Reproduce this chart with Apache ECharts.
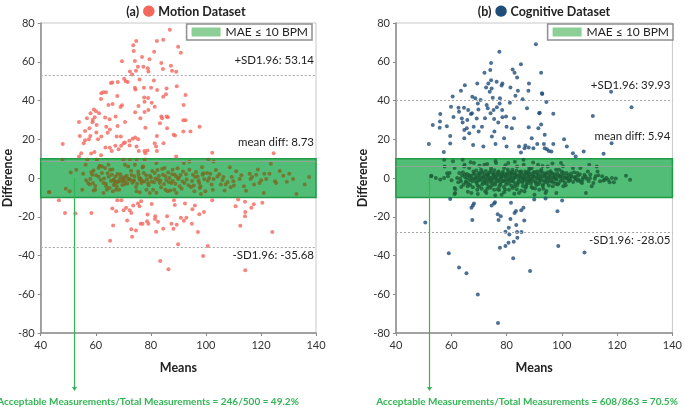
<!DOCTYPE html>
<html>
<head>
<meta charset="utf-8">
<script src="https://cdn.jsdelivr.net/npm/echarts@6/dist/echarts.min.js"></script>
<style>
  html, body { margin: 0; padding: 0; background: #fff; }
  #chart { width: 685px; height: 407px; }
</style>
</head>
<body>
<div id="chart"></div>
<script>
// Bland-Altman plots, motion vs cognitive dataset
const xTicks = [40, 60, 80, 100, 120, 140];
const yTicks = [-80, -60, -40, -20, 0, 20, 40, 60, 80];
const maeBand = [-10, 10];
const acceptMean = 52; // where the green pointer drops from

// limits: +SD1.96, mean diff, -SD1.96
const motionLimits = [53.14, 8.73, -35.68];
const cognitiveLimits = [39.93, 5.94, -28.05];

const motionCounts = [246, 500, 49.2];
const cognitiveCounts = [608, 863, 70.5];

// motion dataset: [means, difference]
const motionUpper = [
  [48,17.5],[86.9,76.5],[94.2,76.2],[74.7,70.7],[73.6,68.5],[84.5,71.4],[82.2,70.7],[89.9,67.8],[90.9,64.6],[81.2,65.1],
  [73.8,65.6],[69.5,60.3],[76.8,62.5],[74.2,60.4],[79.5,61.3],[83.8,59.4],[87.3,58.0],[84.4,56.2],[77.3,57.4],[78.9,56.7],
  [75.3,57.4],[74.6,55.3],[72.4,55.0],[87.7,55.3],[89.2,54.8],[79.1,55.0],[73.2,53.4],[70.3,51.2],[70.9,50.0],[71.6,49.5],
  [66.0,49.3],[68.0,49.5],[65.5,49.0],[75.9,50.9],[81.1,50.3],[80.1,46.6],[77.5,46.6],[74.2,46.6],[74.4,45.7],[82.3,45.4],
  [85.7,46.2],[85.5,43.2],[62.7,44.3],[63.7,44.2],[62.0,43.7],[89.4,47.4],[67.8,42.3],[92.6,42.8],[61.9,40.8],[77.6,41.6],
  [79.0,41.3],[77.7,39.4],[84.5,42.0],[91.9,37.7],[69.5,37.5],[69.0,36.6],[64.6,37.7],[66.1,38.2],[80.3,38.9],[75.5,37.2],
  [81.4,36.8],[79.1,35.1],[77.7,34.1],[74.3,33.9],[59.3,35.4],[60.1,34.4],[58.1,33.4],[61.2,33.4],[56.8,30.8],[59.6,31.3],
  [58.9,30.0],[58.8,28.8],[53.9,28.9],[85.7,31.7],[86.2,31.3],[84.1,30.8],[83.8,31.7],[91.8,29.8],[92.6,29.8],[76.2,30.8],
  [67.2,31.7],[63.4,31.2],[65.0,30.3],[70.6,28.9],[60.3,27.4],[63.8,26.5],[67.9,26.9],[78.0,26.0],[85.9,25.7],[83.3,28.3],
  [56.1,24.3],[57.7,25.7],[54.2,21.7],[58.0,21.7],[57.5,20.0],[56.1,19.5],[55.6,18.0],[60.2,23.5],[60.8,20.0],[64.3,23.3],
  [62.0,21.4],[65.1,25.0],[69.1,21.4],[67.6,21.4],[63.5,15.8],[65.1,15.6],[65.8,14.0],[67.1,16.6],[69.2,16.6],[70.1,18.0],
  [70.6,18.3],[72.2,19.2],[73.4,20.2],[74.3,20.9],[75.4,20.0],[68.3,14.9],[72.3,16.8],[74.8,16.3],[75.6,14.0],[77.7,14.0],
  [78.8,14.2],[78.0,12.8],[81.4,18.0],[81.9,16.3],[82.2,14.0],[82.2,21.7],[84.6,18.0],[88.3,22.3],[88.8,21.9],[91.8,24.0],
  [97.7,26.4],[94.4,24.0],[102.3,13.0],[124.6,12.8],[89.2,11.1],[61.9,11.8],[53.9,11.1],[54.7,12.8],[59.5,13.4],[58.3,12.7]
];
const motionBand = [
  [43.0,-7.2],[43.1,-7.4],[47.9,9.4],[50.9,2.9],[49.1,-5.6],[50.5,-6.9],[55.1,-6.0],[52.9,4.3],[56.3,6.8],[56.9,9.4],
  [58.0,-0.5],[58.7,1.7],[59.2,3.9],[59.0,-2.6],[57.2,-2.6],[60.4,9.4],[61.4,6.3],[61.0,5.1],[62.2,2.6],[59.8,-6.0],
  [59.2,-6.5],[63.4,5.1],[62.8,-2.6],[63.8,-4.3],[64.0,-6.0],[62.8,-7.7],[64.6,6.8],[65.2,4.3],[65.8,1.7],[66.4,-0.9],
  [67.0,-2.6],[67.6,-4.3],[68.2,-1.7],[68.8,0],[69.4,-1.7],[70.0,-0.9],[70.6,-1.7],[66.2,-6.9],[67.4,-6.0],[70.0,9.4],
  [70.6,6.8],[71.8,6.0],[72.4,9.4],[72.1,-0.5],[73.6,-1.7],[74.2,6.8],[74.8,9.4],[75.4,3.4],[76.0,-0.9],[76.6,-2.6],
  [77.2,6.0],[77.8,9.4],[74.8,-6.9],[76.0,-7.4],[78.4,-6.0],[79.0,-2.6],[79.6,-7.7],[80.8,-6.0],[81.4,2.6],[82.0,7.7],
  [82.6,-0.9],[83.2,-2.6],[84.4,1.7],[85.0,5.1],[85.3,-6.0],[86.1,-6.9],[86.8,0],[87.4,-2.6],[87.9,4.3],[88.5,-6.0],
  [89.2,0.8],[88.7,1.7],[89.9,-0.5],[89.3,-7.7],[90.5,-4.3],[91.7,3.4],[92.0,7.7],[92.2,-2.6],[94.0,8.5],[94.0,4.3],
  [95.3,1.7],[95.6,-3.9],[95.8,-6.9],[97.0,0.8],[97.6,-2.6],[98.0,-4.3],[98.2,-8.2],[98.6,5.6],[98.8,1.7],[99.4,-0.5],
  [100.4,2.6],[100.9,9.4],[101.2,0],[101.6,2.2],[102.1,-3.4],[102.8,-0.5],[102.8,8.5],[104.2,0.8],[105.4,-3.4],[106.4,0.5],
  [106.8,-6.4],[107.2,-3.4],[108.7,5.6],[109.4,0.5],[110.0,-1.7],[110.2,-3.9],[112.3,-0.5],[113.8,-4.3],[115.9,2.2],[116.2,-0.5],
  [116.8,0.5],[118.3,1.7],[119.5,-2.6],[121.0,-7.7],[121.2,2.2],[121.9,-0.5],[123.1,2.2],[123.6,7.3],[125.1,-1.7],[125.5,-2.6],
  [128.1,1.2],[130.3,2.2],[131.7,-0.5],[132.9,-8.2],[135.9,-3.4],[137.5,0.5],
  [56.5,-1.2],[58.4,3.0],[59.8,-4.1],[61.0,0.6],[62.3,6.0],[63.0,-0.2],[64.3,2.4],[65.0,-5.2],[66.0,4.4],[66.8,-1.4],
  [67.9,2.1],[68.5,-6.1],[69.8,0.4],[70.4,-3.2],[71.2,1.1],[71.9,-0.6],[72.8,3.8],[73.3,-2.4],[74.0,0.9],[74.6,-4.6],
  [75.5,2.0],[76.3,-0.4],[77.0,5.4],[77.6,-1.8],[78.3,1.4],[79.2,-3.8],[80.0,0.2],[80.5,3.6],[81.2,-2.2],[82.0,-7.6],
  [82.9,1.0],[83.7,-4.8],[84.1,4.6],[85.6,-1.0],[86.3,2.8],[87.0,-6.4],[88.0,-1.6],[89.7,5.0],[90.8,1.6],[91.2,-5.6],
  [93.0,-0.8],[94.6,-4.6],[96.4,3.1],[97.3,-1.3],[99.8,-6.8],[103.6,4.1],[107.9,-2.0],[111.0,3.5],[114.6,-6.6],[118.9,4.4],
  [55.4,2.2],[57.8,-3.4],[60.1,1.4],[61.8,-1.0],[63.6,-3.0],[64.7,0.6],[65.5,-1.5],[66.5,-3.6],[67.2,0.8],[68.0,-2.0],
  [68.9,1.9],[69.6,-3.6],[70.7,0.4],[71.5,-2.8],[72.5,-0.9],[73.0,1.6],[73.9,-1.2],[75.0,-3.0],[75.7,0.3],[76.8,-1.5],
  [77.4,2.6],[78.6,-0.7],[79.7,1.1],[80.3,-1.9],[81.7,-0.2],[82.4,4.1],[83.5,-1.3],[84.8,-3.1],[85.3,0.9],[86.5,-2.0],
  [87.7,1.9],[88.9,-3.0],[90.2,0.1],[91.5,-1.8],[92.8,2.0],[93.7,-3.8],[95.0,-1.6],[96.1,0.5],[97.8,-5.2],[99.0,2.4],
  [100.7,-1.4],[102.5,-6.0],[104.9,1.9],[106.0,-1.0],[109.0,-4.8],[112.9,1.4],[117.5,-3.4],[120.1,-1.2],[126.8,3.6],[129.4,-1.9]
];
const motionLower = [
  [46.6,-11.5],[48.8,-18.0],[52.6,-18.3],[58.4,-18.0],[66.0,-15.8],[67.4,-17.1],[66.3,-24.5],[65.2,-32.4],[67.8,-11.5],[69.3,-11.5],
  [70.1,-16.6],[71.0,-15.4],[71.4,-21.9],[72.3,-16.6],[72.9,-18.0],[72.9,-26.5],[73.2,-30.3],[74.6,-27.1],[73.6,-14.2],[75.3,-13.2],
  [75.9,-14.6],[76.5,-12.0],[77.0,-23.6],[76.3,-23.6],[78.8,-18.8],[78.6,-22.3],[79.1,-23.6],[80.3,-13.4],[81.6,-19.7],[81.5,-21.1],
  [82.6,-22.6],[81.9,-27.7],[83.4,-42.8],[84.5,-26.2],[85.9,-19.7],[86.4,-47.1],[87.5,-23.6],[88.2,-26.2],[88.7,-13.9],[89.4,-24.1],
  [89.9,-34.2],[88.4,-11.5],[90.9,-20.5],[92.0,-22.1],[92.4,-13.2],[92.9,-20.5],[95.1,-16.1],[96.0,-14.2],[94.9,-23.6],[97.1,-27.9],
  [97.6,-18.7],[99.3,-17.5],[99.0,-40.2],[100.7,-35.1],[102.3,-11.5],[110.8,-14.6],[111.7,-11.1],[112.5,-24.7],[114.2,-12.3],[114.3,-17.5],
  [114.2,-19.7],[114.3,-47.6],[116.5,-15.4],[117.4,-13.5],[120.5,-12.8],[124.1,-27.9]
];

// cognitive dataset: [means, difference]
const cognitiveUpper = [
  [51.9,17.6],[53.3,27.4],[55.8,26.0],[56.0,33.0],[55.9,29.1],[58.4,26.7],[57.3,13.4],[59.6,17.8],[59.6,21.7],[59.9,36.8],
  [60.5,42.1],[60.8,31.5],[62.6,36.3],[62.8,34.2],[63.5,45.0],[63.8,30.7],[64.1,28.6],[64.9,47.9],[64.6,36.3],[64.7,24.8],
  [64.7,20.5],[65.6,25.7],[65.8,30.0],[66.1,35.1],[66.5,23.1],[67.1,33.0],[67.5,33.4],[67.6,42.0],[67.9,17.0],[68.1,26.5],
  [68.7,41.1],[69.4,48.8],[69.2,30.7],[69.6,38.5],[69.8,35.4],[69.9,24.0],[70.6,40.2],[71.1,26.5],[71.6,16.3],[72.0,54.3],
  [72.2,30.8],[72.8,37.7],[73.2,36.0],[72.6,46.7],[73.4,48.8],[73.9,44.5],[74.1,55.7],[74.2,33.4],[74.4,59.4],[74.6,46.2],
  [74.4,50.5],[74.7,21.4],[75.0,41.4],[75.3,35.1],[75.5,30.5],[75.6,24.0],[76.0,17.6],[76.4,49.7],[76.5,36.5],[77.0,28.6],
  [77.4,65.1],[77.5,38.5],[77.6,41.1],[78.2,47.8],[78.5,48.8],[78.4,35.1],[78.5,31.3],[79.1,20.5],[79.8,31.7],[80.0,16.3],
  [80.0,26.5],[81.2,38.9],[81.4,46.7],[81.9,25.7],[82.2,56.0],[82.9,54.3],[82.7,30.8],[83.2,42.5],[83.8,51.9],[84.1,45.0],
  [84.5,16.3],[85.2,58.7],[85.2,13.2],[85.8,40.6],[86.5,15.4],[86.8,16.8],[87.4,36.0],[87.9,45.0],[88.0,26.2],[88.1,48.8],
  [90.6,69.0],[91.1,17.6],[91.5,25.7],[91.8,33.4],[92.5,54.3],[92.8,43.7],[92.5,27.6],[92.9,43.3],[93.8,22.3],[93.5,17.6],
  [94.4,39.2],[94.6,14.9],[96.2,13.7],[96.9,33.2],[96.9,17.6],[100.8,20.0],[101.8,16.3],[104.0,12.8],[107.9,13.7],[111.2,32.0],
  [115.1,12.5],[117.8,44.5],[118.0,18.0],[125.2,36.5],[88.0,15.8],[92.0,33.7],[89.1,20.5],[93.8,15.4],[95.3,14.0],[105.0,11.1],
  [89.7,15.4]
];
const cognitiveBand = [
  [52.8,1.2],[54.4,0],[52.7,0.9],[57.4,9.4],[57.6,6.0],[57.4,0],[58.8,0.9],[59.4,2.6],[60.6,8.6],[61.2,5.1],
  [61.2,-5.1],[61.4,-7.7],[62.1,0],[62.9,2.6],[63.5,-1.7],[64.1,9.4],[64.7,6.0],[64.9,1.7],[65.3,-1.7],[65.9,-4.3],
  [66.5,5.1],[66.8,0.9],[67.3,-7.7],[67.6,-1.7],[68.0,3.4],[68.2,7.7],[68.8,0],[69.2,-2.6],[69.4,-6.0],[70.0,2.6],
  [70.4,-0.9],[70.8,4.3],[71.2,-3.4],[71.5,0.9],[72.0,6.8],[72.4,-1.7],[72.7,-7.7],[73.2,1.7],[73.5,-4.3],[73.9,-0.5],
  [74.4,5.1],[74.7,-2.6],[75.1,2.6],[75.5,-6.0],[75.9,0],[76.2,7.7],[76.7,-1.7],[77.1,3.4],[77.4,-4.3],[77.9,0.9],
  [78.2,-8.6],[78.6,-1.7],[79.1,5.1],[79.4,1.7],[79.8,-3.4],[80.2,-0.5],[80.6,7.7],[80.9,-6.0],[81.4,2.6],[81.8,-1.7],
  [82.1,4.3],[82.6,0],[82.9,-4.3],[83.3,1.7],[83.8,6.0],[84.1,-2.6],[84.5,-7.7],[84.9,0.9],[85.3,3.4],[85.6,-1.7],
  [86.1,9.4],[86.5,0],[86.8,-5.1],[87.3,2.6],[87.6,-2.6],[88.2,5.1],[88.8,-0.5],[87.9,1.7],[88.5,-1.7],[89.1,5.1],
  [89.4,-5.1],[89.9,0.9],[90.6,-2.6],[91.1,3.4],[91.4,6.8],[91.8,-6.0],[92.2,0],[92.6,4.3],[93.2,-3.4],[93.8,1.7],
  [94.1,-7.7],[94.6,-0.9],[94.9,6.0],[95.5,-1.7],[96.1,2.6],[96.7,-4.3],[97.3,0],[97.9,4.3],[98.5,-3.4],[99.1,0.9],
  [99.7,7.7],[100.0,3.4],[100.5,-4.3],[101.2,0],[101.7,2.6],[102.4,-1.7],[103.2,0.9],[104.0,5.1],[104.7,0],[105.5,2.6],
  [106.1,-0.9],[106.7,5.1],[107.3,-2.6],[108.2,1.7],[108.7,-7.7],[109.4,3.4],[109.9,6.8],[110.2,0],[110.8,-4.3],[111.4,-2.6],
  [112.2,0.9],[112.6,6.0],[112.9,3.4],[113.8,-1.7],[114.6,0.9],[115.5,-0.9],[116.1,0],[117.3,-2.2],[118.1,0],[118.8,-2.2],
  [123.2,1.2],[124.7,-0.9],[61.2,-8.2],
  [62.5,-2.2],[63.2,-0.4],[63.9,1.3],[64.4,-3.5],[65.0,0.4],[65.6,2.1],[66.1,-2.9],[66.7,-1.0],[67.2,1.0],[67.8,-4.8],
  [68.3,-0.2],[68.6,1.8],[69.0,3.9],[69.5,-3.9],[69.9,-1.3],[70.3,0.6],[70.6,2.5],[71.0,-5.6],[71.4,-2.0],[71.7,0.1],
  [72.1,1.9],[72.5,3.6],[72.8,-3.0],[73.1,-0.8],[73.5,0.8],[73.8,2.9],[74.2,-5.0],[74.5,-1.4],[74.9,0.4],[75.2,2.0],
  [75.6,4.0],[75.9,-3.3],[76.3,-0.9],[76.6,1.1],[77.0,2.7],[77.3,-6.2],[77.7,-2.2],[78.0,-0.2],[78.4,1.5],[78.7,3.2],
  [79.0,-4.7],[79.4,-1.1],[79.7,0.6],[80.1,2.3],[80.4,4.4],[80.8,-2.9],[81.1,-0.6],[81.5,1.2],[81.8,3.0],[82.2,-5.2],
  [82.5,-1.8],[82.9,0.2],[83.2,1.9],[83.6,3.8],[83.9,-3.6],[84.3,-0.8],[84.6,1.0],[85.0,2.6],[85.3,-6.6],[85.7,-2.3],
  [86.0,-0.1],[86.4,1.6],[86.7,3.4],[87.1,-4.4],[87.4,-1.2],[87.8,0.7],[88.1,2.4],[88.5,4.6],[88.8,-2.8],[89.2,-0.5],
  [89.5,1.3],[89.9,3.1],[90.3,-5.4],[90.6,-1.6],[91.0,0.3],[91.3,2.0],[91.7,-3.1],[92.0,-0.9],[92.4,1.1],[92.8,2.8],
  [93.1,-4.1],[93.5,-1.4],[93.9,0.5],[94.3,2.2],[94.7,-2.5],[95.1,-0.3],[95.5,1.4],[95.9,3.5],[96.3,-1.9],[96.8,0.2],
  [97.2,2.0],[97.7,-3.0],[98.1,-0.8],[98.6,1.3],[99.0,4.2],[99.5,-1.6],[100.0,0.4],[100.6,2.6],[101.1,-2.4],[101.7,-0.2],
  [102.3,1.6],[103.0,-1.2],[103.6,0.7],[104.4,3.0],[105.1,-0.6],[105.9,1.2],[106.8,-1.9],[107.7,0.3],[109.0,-0.4],[110.3,1.8],
  [64.8,6.8],[67.0,8.1],[70.2,6.3],[73.0,7.2],[76.0,8.8],[79.6,6.6],[83.0,8.4],[86.2,6.9],[89.6,8.0],[93.0,6.2],
  [96.6,7.5],[100.4,6.1],[66.0,-7.1],[69.6,-8.3],[72.3,-6.8],[75.9,-8.9],[79.1,-7.4],[82.8,-8.1],[86.5,-7.0],[90.1,-8.6],
  [94.4,-6.7],[98.0,-7.8],[60.1,-1.2],[58.5,2.4],[56.0,-0.8],[61.5,-5.8],
  [63.6,-4.6],[64.2,3.0],[65.2,-2.4],[65.8,0.0],[66.3,1.6],[66.9,-3.6],[67.5,-0.5],[68.1,2.3],[68.9,-1.8],[69.3,0.3],
  [69.8,1.5],[70.1,-4.5],[70.9,-0.3],[71.3,3.1],[71.9,-2.6],[72.3,-0.9],[72.6,0.9],[73.0,-5.5],[73.4,2.3],[73.7,-1.9],
  [74.0,0.1],[74.3,3.9],[74.8,-3.8],[75.0,-0.6],[75.4,1.3],[75.8,-2.4],[76.1,0.5],[76.5,2.4],[76.8,-5.8],[77.2,-0.8],
  [77.5,1.9],[77.8,-3.3],[78.1,0.4],[78.5,2.5],[78.9,-1.4],[79.2,0.9],[79.5,-5.9],[79.9,-2.1],[80.3,1.4],[80.7,3.1],
  [81.0,-1.2],[81.3,0.2],[81.7,-4.0],[82.0,1.8],[82.4,-0.4],[82.7,2.7],[83.1,-2.9],[83.4,0.6],[83.7,-5.8],[84.0,1.3],
  [84.4,-1.9],[84.8,3.2],[85.1,-0.2],[85.5,1.8],[85.9,-4.1],[86.2,0.3],[86.6,-1.3],[86.9,2.2],[87.2,-3.2],[87.6,0.1],
  [87.9,3.6],[88.3,-1.1],[88.7,0.9],[89.0,-4.6],[89.3,2.3],[89.7,-1.5],[90.0,0.5],[90.4,2.8],[90.8,-3.6],[91.2,-0.1],
  [91.5,1.6],[91.9,-2.2],[92.2,3.5],[92.6,-1.0],[93.0,0.8],[93.3,-5.5],[93.7,2.4],[94.0,-2.1],[94.5,0.2],[94.9,3.0],
  [95.3,-3.9],[95.7,0.7],[96.1,-0.8],[96.5,2.3],[97.0,-2.1],[97.4,0.9],[97.9,-0.4],[98.3,2.5],[98.8,-2.7],[99.3,0.5],
  [99.8,2.0],[100.3,-1.2],[100.9,1.0],[101.4,-3.7],[102.0,0.3],[102.7,-0.8],[103.3,2.3],[104.1,-2.0],[104.9,0.6],[105.7,-1.4],
  [106.5,2.0],[107.5,-0.9],[108.6,0.6],[109.7,-1.6],[111.9,-0.4],[113.2,1.4],[115.0,-1.3],[116.7,-0.9],[119.5,-0.2]
];
const cognitiveLower = [
  [50.6,-23.0],[59.1,-38.9],[59.6,-10.8],[62.8,-46.2],[65.5,-49.1],[67.3,-15.4],[67.8,-14.2],[68.2,-13.2],[67.6,-21.7],[69.6,-60.1],
  [74.6,-14.2],[75.8,-12.5],[75.5,-13.2],[76.8,-18.7],[77.1,-21.7],[77.9,-19.7],[76.9,-74.8],[77.6,-36.0],[79.6,-27.7],[79.6,-35.1],
  [80.7,-33.4],[80.8,-25.7],[81.0,-29.1],[81.4,-21.1],[81.6,-12.8],[82.4,-41.4],[82.6,-32.9],[82.9,-18.0],[83.4,-17.0],[83.5,-24.3],
  [83.8,-27.9],[83.9,-30.8],[85.3,-16.6],[85.4,-27.9],[86.1,-15.4],[86.4,-21.9],[88.5,-48.0],[90.0,-11.1],[98.4,-17.1],[98.7,-35.1],
  [100.1,-11.6],[108.2,-38.5],[94.1,-10.6]
];

const FONT = 'Lato, "Open Sans", sans-serif';
const motionColor = '#f4675c';
const motionInBand = '#7b6a22';
const cognitiveColor = '#1f4e79';
const cognitiveInBand = '#1b5e36';
const bandColor = '#52bd77';
const bandEdge = '#1f9a45';
const pointerGreen = '#33b555';
const bandName = 'MAE \u2264 10 BPM';

const chartDom = document.getElementById('chart');
const chart = echarts.init(chartDom, null, { renderer: 'canvas' });

const grids = [
  { left: 38, right: 369, top: 23, bottom: 74 },
  { left: 396, right: 6, top: 23, bottom: 74 }
];

function xAxisFor(idx) {
  return {
    gridIndex: idx, type: 'value', min: xTicks[0], max: xTicks[xTicks.length - 1], interval: 20,
    name: 'Means', nameLocation: 'middle', nameGap: 28,
    nameTextStyle: { fontFamily: FONT, fontWeight: 'bold', fontSize: 12.5, color: '#222' },
    axisLine: { onZero: false, lineStyle: { color: '#8c8c8c', width: 1.5 } },
    axisTick: { show: true, length: 3, lineStyle: { color: '#8c8c8c' } },
    axisLabel: { fontFamily: FONT, fontSize: 11, color: '#333', margin: 7 },
    splitLine: { show: false }
  };
}

function yAxisFor(idx, gap) {
  return {
    gridIndex: idx, type: 'value', min: yTicks[0], max: yTicks[yTicks.length - 1], interval: 20,
    name: 'Difference', nameLocation: 'middle', nameGap: gap,
    nameTextStyle: { fontFamily: FONT, fontWeight: 'bold', fontSize: 12.5, color: '#222' },
    axisLine: { show: true, lineStyle: { color: '#8c8c8c', width: 1.5 } },
    axisTick: { show: true, length: 3, lineStyle: { color: '#8c8c8c' } },
    axisLabel: { fontFamily: FONT, fontSize: 11, color: '#333', margin: 6 },
    splitLine: { show: false }
  };
}

function limitLines(idx, limits, meanColor) {
  const lbl = { fontFamily: FONT, fontSize: 11.5, color: '#222' };
  return {
    type: 'scatter', xAxisIndex: idx, yAxisIndex: idx, data: [], z: 2, silent: true,
    markLine: {
      symbol: 'none', silent: true, animation: false,
      data: [
        { yAxis: limits[0], lineStyle: { type: [2, 2], color: '#a6a6a6', width: 1 },
          label: Object.assign({ position: 'insideEndTop', distance: [2, 9], formatter: '+SD1.96: ' + limits[0].toFixed(2) }, lbl) },
        { yAxis: limits[1], lineStyle: { type: 'solid', color: meanColor, width: 1 },
          label: Object.assign({ position: 'insideEndTop', distance: [2, idx === 0 ? 13 : 24], formatter: 'mean diff: ' + limits[1].toFixed(2) }, lbl) },
        { yAxis: limits[2], lineStyle: { type: [2, 2], color: '#a6a6a6', width: 1 },
          label: Object.assign({ position: 'insideEndBottom', distance: [2, 2], formatter: '-SD1.96: ' + limits[2].toFixed(2) }, lbl) }
      ]
    }
  };
}

function bandSeries(idx) {
  return {
    name: bandName, type: 'scatter', xAxisIndex: idx, yAxisIndex: idx, data: [], z: 1, silent: true,
    itemStyle: { color: '#6fc27b' },
    markArea: {
      silent: true, animation: false,
      itemStyle: { color: bandColor, borderColor: bandEdge, borderWidth: 1.5 },
      data: [[{ yAxis: maeBand[1] }, { yAxis: maeBand[0] }]]
    }
  };
}

function pointSeries(idx, name, data) {
  return {
    name: name, type: 'scatter', xAxisIndex: idx, yAxisIndex: idx, z: 3,
    symbolSize: 4, data: data, animation: false
  };
}

function titleFor(left, tag, name, color) {
  return {
    left: left, top: -1, textAlign: 'center',
    text: '(' + tag + ') {dot|\u25CF} ' + name,
    textStyle: {
      fontFamily: FONT, fontWeight: 'bold', fontSize: 12.5, color: '#222',
      rich: { dot: { color: color, fontSize: 15, fontFamily: 'DejaVu Sans' } }
    }
  };
}

function legendFor(right) {
  return {
    data: [{ name: bandName, icon: 'rect' }], right: right, top: 24, selectedMode: false,
    itemWidth: 29, itemHeight: 9, itemGap: 6, padding: [2, 4, 2, 5],
    borderColor: '#8f8f8f', borderWidth: 1.5, backgroundColor: '#fff',
    textStyle: { fontFamily: FONT, fontSize: 12, color: '#222' }
  };
}

const option = {
  animation: false,
  title: [
    titleFor(181, 'a', 'Motion Dataset', motionColor),
    titleFor(539, 'b', 'Cognitive Dataset', cognitiveColor)
  ],
  legend: [legendFor(373), legendFor(12)],
  grid: grids.map(g => Object.assign({ show: true, borderColor: '#c8c8c8', borderWidth: 1 }, g)),
  xAxis: [xAxisFor(0), xAxisFor(1)],
  yAxis: [yAxisFor(0, 25), yAxisFor(1, 26)],
  visualMap: [
    { type: 'piecewise', show: false, seriesIndex: 2, dimension: 1,
      pieces: [{ gte: maeBand[0], lte: maeBand[1], color: motionInBand }, { gt: maeBand[1], color: motionColor }, { lt: maeBand[0], color: motionColor }] },
    { type: 'piecewise', show: false, seriesIndex: 5, dimension: 1,
      pieces: [{ gte: maeBand[0], lte: maeBand[1], color: cognitiveInBand }, { gt: maeBand[1], color: cognitiveColor }, { lt: maeBand[0], color: cognitiveColor }] }
  ],
  series: [
    bandSeries(0),
    limitLines(0, motionLimits, '#8fa596'),
    pointSeries(0, 'Motion', motionUpper.concat(motionBand, motionLower)),
    bandSeries(1),
    limitLines(1, cognitiveLimits, '#8fa596'),
    pointSeries(1, 'Cognitive', cognitiveUpper.concat(cognitiveBand, cognitiveLower))
  ]
};

chart.setOption(option);

// green pointer from the band down to the summary text
function pointer(idx, counts, textX) {
  const top = chart.convertToPixel({ gridIndex: idx }, [acceptMean, 0]);
  const x = Math.round(top[0]) + 0.5;
  const endY = 391;
  return [
    { type: 'line', shape: { x1: x, y1: top[1], x2: x, y2: endY - 2 }, style: { stroke: pointerGreen, lineWidth: 1.2 }, z: 10 },
    { type: 'polygon', shape: { points: [[x - 2.5, endY - 4], [x + 2.5, endY - 4], [x, endY]] }, style: { fill: pointerGreen }, z: 10 },
    { type: 'text', x: textX, y: 402, z: 10,
      style: {
        text: 'Acceptable Measurements/Total Measurements = ' + counts[0] + '/' + counts[1] + ' = ' + counts[2].toFixed(1) + '%',
        fill: pointerGreen, font: 'bold 10px ' + FONT, align: 'center', verticalAlign: 'middle'
      } }
  ];
}

chart.setOption({ graphic: pointer(0, motionCounts, 148).concat(pointer(1, cognitiveCounts, 527)) });

window.addEventListener('resize', () => {
  chart.resize();
});
</script>
</body>
</html>
